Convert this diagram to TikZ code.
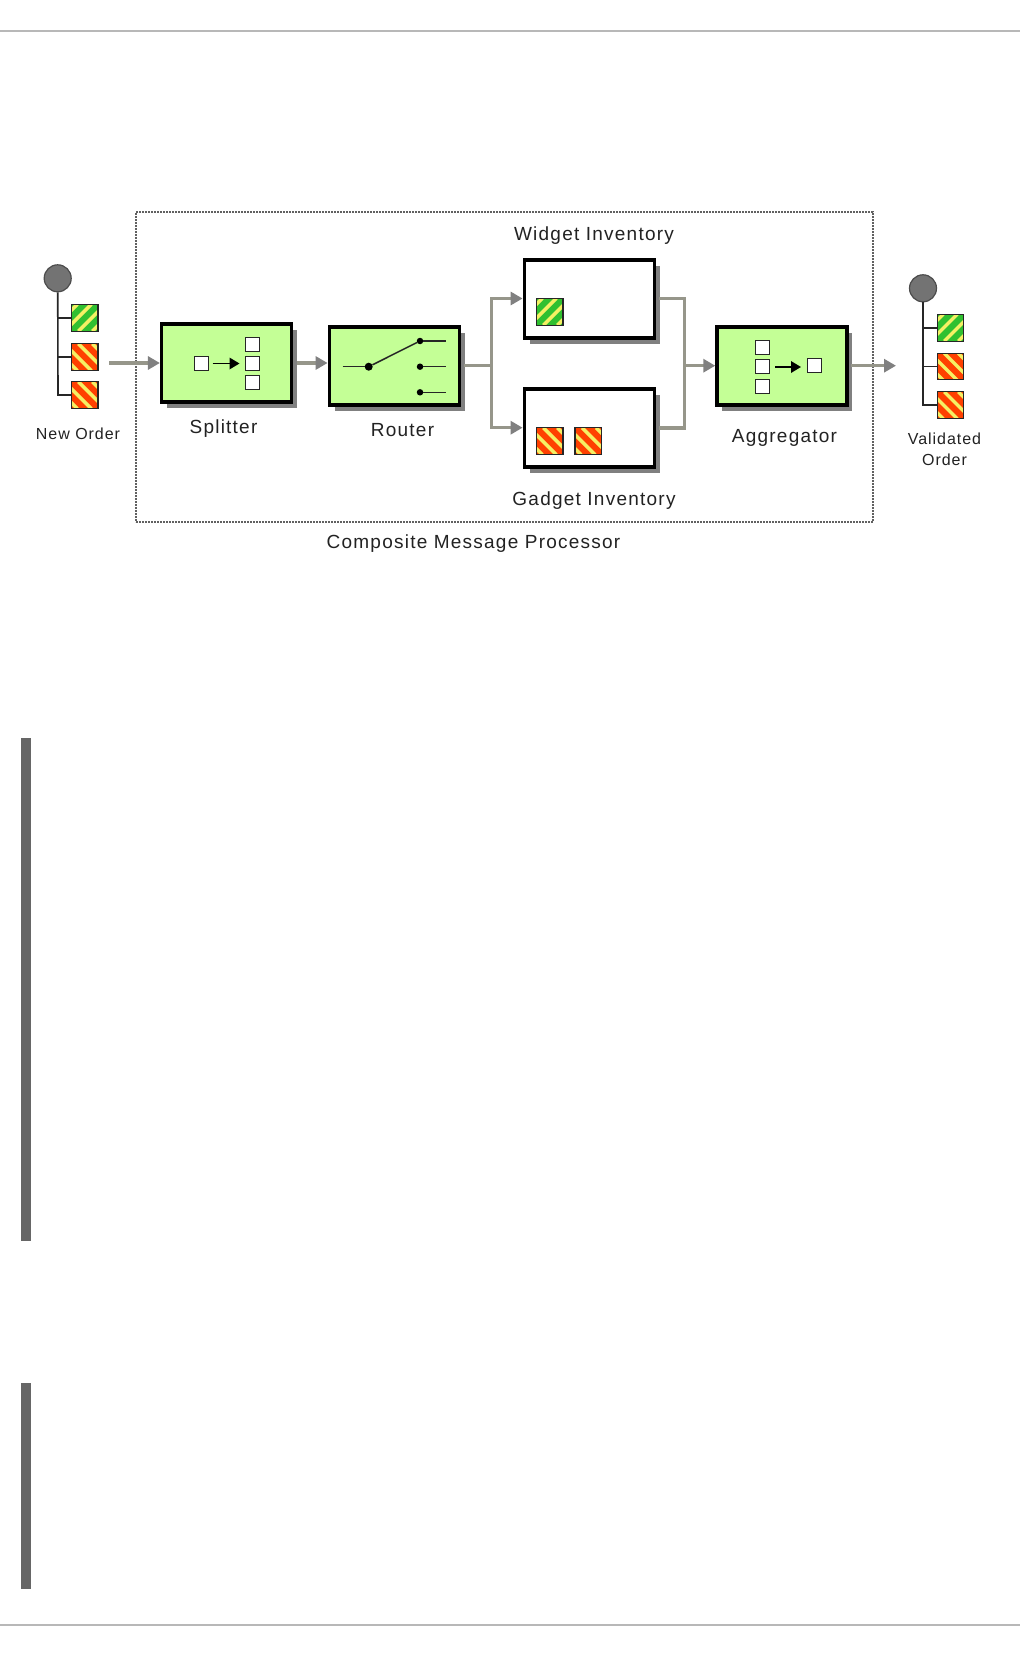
\documentclass[tikz,border=0pt]{standalone}
\usepackage{fontspec}
\setmainfont{Liberation Sans}
\usetikzlibrary{arrows.meta,shadows}
\definecolor{boxgreen}{HTML}{C4FF96}
\definecolor{flowline}{HTML}{96968A}
\definecolor{flowtip}{HTML}{808080}
\definecolor{shadowgrey}{HTML}{808080}
\definecolor{stripey}{HTML}{F5F064}
\definecolor{msggreen}{HTML}{30C030}
\definecolor{msgred}{HTML}{FF4000}
\definecolor{txt}{HTML}{222222}
\tikzset{
  x=1pt,y=-1pt,
  filterbox/.style={draw=black,line width=3.2pt,fill=boxgreen,minimum width=130pt,minimum height=78pt,inner sep=0pt,
    drop shadow={shadow xshift=5.5pt,shadow yshift=-5.5pt,fill=shadowgrey,opacity=1}},
  storebox/.style={filterbox,fill=white},
  msgbase/.style={draw=black!85,line width=1.4pt,minimum size=26.5pt,inner sep=0pt},
  greenmsg/.style={msgbase,fill=msggreen,path picture={
    \foreach \d in {-21,-7,7,21}{
      \draw[stripey,line width=3.5pt] ([xshift=\d pt]path picture bounding box.south west) -- ++(27pt,27pt);
    }}},
  redmsg/.style={msgbase,fill=msgred,path picture={
    \foreach \d in {-21,-7,7,21}{
      \draw[stripey,line width=3.5pt] ([xshift=\d pt]path picture bounding box.north west) -- ++(27pt,-27pt);
    }}},
  tinybox/.style={draw=black!85,line width=1pt,fill=white,minimum size=14pt,inner sep=0pt},
  headcircle/.style={circle,draw=black!70,line width=1.2pt,fill=black!55,minimum size=27pt,inner sep=0pt},
  branch/.style={draw=black!85,line width=1.6pt},
  flow/.style={draw=flowline,line width=3.4pt},
  flowarrow/.style={flow,-{Triangle[length=12pt,width=13pt,fill=flowtip,color=flowtip]}},
  blackarrow/.style={draw=black,line width=1.8pt,-{Triangle[length=10pt,width=11.5pt]}},
  swline/.style={draw=black!85,line width=1.5pt},
  dotbig/.style={circle,fill=black,minimum size=8pt,inner sep=0pt},
  dotsmall/.style={circle,fill=black,minimum size=6.5pt,inner sep=0pt},
  frame/.style={draw=black!62,line width=2pt,dash pattern=on 1.8pt off 1.2pt,minimum width=737pt,minimum height=310pt,inner sep=0pt},
  smalllabel/.style={anchor=base,text=txt,inner sep=0pt,font=\fontsize{16}{18}\selectfont\addfontfeature{LetterSpace=6}},
  biglabel/.style={anchor=base,text=txt,inner sep=0pt,font=\fontsize{19}{22}\selectfont\addfontfeature{LetterSpace=6.5}},
  pagerule/.style={draw=black!28,line width=2pt},
  sidebar/.style={fill=black!60,minimum width=10pt,inner sep=0pt},
}
\begin{document}
\begin{tikzpicture}
\useasboundingbox (0,0) rectangle (1020,1656);
\fill[white] (0,0) rectangle (1020,1656);
% page furniture
\coordinate (tl) at (0,30.7); \coordinate (tr) at (1020,30.7);
\coordinate (bl) at (0,1625); \coordinate (br) at (1020,1625);
\draw[pagerule] (tl) -- (tr);
\draw[pagerule] (bl) -- (br);
\node[sidebar,minimum height=503pt] (barone) at (26,989.5) {};
\node[sidebar,minimum height=206pt] (bartwo) at (26,1486) {};
% frame
\node[frame] (cmp) at (504.7,367.2) {};
% boxes
\node[filterbox] (splitter) at (226.5,363) {};
\node[filterbox] (router) at (394.2,366) {};
\node[storebox] (widget) at (589.2,299) {};
\node[storebox] (gadget) at (589.2,428) {};
\node[filterbox] (aggregator) at (781.9,366) {};
% left tree
\node[headcircle] (lhead) at (57.7,278.3) {};
\node[greenmsg] (lm1) at (84.7,318) {};
\node[redmsg] (lm2) at (84.7,357) {};
\node[redmsg] (lm3) at (84.7,395) {};
\coordinate (lc1) at (58,318); \coordinate (lc2) at (58,357); \coordinate (lc3) at (58,395);
\draw[branch] (lhead) -- (lc3) -- (lm3);
\draw[branch] (lc1) -- (lm1);
\draw[branch] (lc2) -- (lm2);
% right tree
\node[headcircle] (rhead) at (923,288.3) {};
\node[greenmsg] (rm1) at (950.5,328) {};
\node[redmsg] (rm2) at (950.5,366.5) {};
\node[redmsg] (rm3) at (950.5,405) {};
\coordinate (rc1) at (923,328); \coordinate (rc2) at (923,366.5); \coordinate (rc3) at (923,405);
\draw[branch] (rhead) -- (rc3) -- (rm3);
\draw[branch] (rc1) -- (rm1);
\draw[branch] (rc2) -- (rm2);
% splitter inside
\node[tinybox] (si) at (201,363.5) {};
\node[tinybox] (so1) at (252.5,344) {};
\node[tinybox] (so2) at (252.5,363.5) {};
\node[tinybox] (so3) at (252.5,382.7) {};
\coordinate (sa) at (212.7,363.5); \coordinate (sb) at (239.5,363.5);
\draw[blackarrow] (sa) -- (sb);
% aggregator inside
\node[tinybox] (ai1) at (762.5,347.3) {};
\node[tinybox] (ai2) at (762.5,366.5) {};
\node[tinybox] (ai3) at (762.5,386) {};
\node[tinybox] (ao) at (814,365) {};
\coordinate (aa) at (775,367); \coordinate (ab) at (801,367);
\draw[blackarrow] (aa) -- (ab);
% router inside
\coordinate (rin) at (342.7,366.7);
\node[dotbig] (pivot) at (368.7,366.7) {};
\node[dotsmall] (c1) at (420,341) {};
\node[dotsmall] (c2) at (420,366.7) {};
\node[dotsmall] (c3) at (420,392.3) {};
\coordinate (e1) at (446,341); \coordinate (e2) at (446,366.7); \coordinate (e3) at (446,392.3);
\draw[swline] (rin) -- (pivot);
\draw[swline] (pivot) -- (c1);
\draw[swline] (c1) -- (e1);
\draw[swline] (c2) -- (e2);
\draw[swline] (c3) -- (e3);
% messages in stores
\node[greenmsg] (wm) at (549.6,312) {};
\node[redmsg] (gm1) at (549.6,441) {};
\node[redmsg] (gm2) at (588.3,441) {};
% connectors
\coordinate (n0) at (109,363);
\coordinate (s0) at (296.7,363);
\coordinate (r0) at (464,365.7);
\coordinate (j) at (491.7,365.7);
\coordinate (jt) at (491.7,298.5);
\coordinate (jb) at (491.7,427.7);
\coordinate (w0) at (659,298.5);
\coordinate (g0) at (659,428);
\coordinate (m0) at (684.3,298.5);
\coordinate (m1) at (684.3,428);
\coordinate (m2) at (684.3,365.7);
\coordinate (a0) at (851,365.7);
\coordinate (outend) at (896,365.7);
\draw[flowarrow] (n0) -- (splitter.west);
\draw[flowarrow] (s0) -- (router.west |- s0);
\draw[flow] (r0) -- (j);
\draw[flowarrow] (j) -- (jt) -- (widget.west |- jt);
\draw[flowarrow] (j) -- (jb) -- (gadget.west |- jb);
\draw[flow] (w0) -- (m0) -- (m1) -- (g0);
\draw[flowarrow] (m2) -- (aggregator.west |- m2);
\draw[flowarrow] (a0) -- (outend);
% labels
\node[smalllabel] (lnew) at (78,439) {New Order};
\node[smalllabel] (lval) at (944.5,444.3) {Validated};
\node[smalllabel] (lord) at (944.5,465) {Order};
\node[biglabel] (lspl) at (223.5,433) {Splitter};
\node[biglabel] (lrou) at (402.5,436) {Router};
\node[biglabel] (lwid) at (594,240.7) {Widget Inventory};
\node[biglabel] (lgad) at (594,505.7) {Gadget Inventory};
\node[biglabel] (lagg) at (784.5,442.7) {Aggregator};
\node[biglabel] (lcmp) at (473.5,548) {Composite Message Processor};
\end{tikzpicture}
\end{document}
